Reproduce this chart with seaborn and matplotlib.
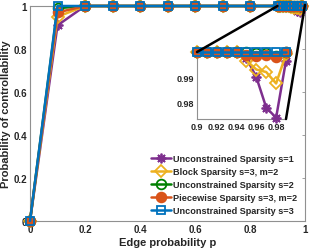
import numpy as np
import pandas as pd
import matplotlib
matplotlib.use("Agg")
import matplotlib.pyplot as plt
import seaborn as sns
from matplotlib.patches import ConnectionPatch

sns.set_style("white")
plt.rcParams['font.family'] = ['Liberation Sans', 'DejaVu Sans']
plt.rcParams['font.weight'] = 'bold'

edge_p = [0.0, 0.1, 0.2, 0.3, 0.4, 0.5, 0.6, 0.7, 0.8, 0.9,
          0.91, 0.92, 0.93, 0.94, 0.95, 0.96, 0.97, 0.98, 0.99]

uncon_s1 = [0.0, 0.91, 1.0, 1.0, 1.0, 1.0, 1.0, 1.0, 1.0, 1.0,
            1.0, 1.0, 1.0, 1.0, 0.9975, 0.990, 0.978, 0.974, 0.9965]
block_s3 = [0.0, 0.95, 1.0, 1.0, 1.0, 1.0, 1.0, 1.0, 1.0, 1.0,
            1.0, 1.0, 1.0, 1.0, 0.9965, 0.993, 0.992, 0.9875, 0.999]
uncon_s2 = [0.0, 0.99, 1.0, 1.0, 1.0, 1.0, 1.0, 1.0, 1.0, 1.0,
            1.0, 1.0, 1.0, 1.0, 1.0, 0.9995, 0.9995, 0.9985, 1.0]
piece_s3 = [0.0, 0.97, 1.0, 1.0, 1.0, 1.0, 1.0, 1.0, 1.0, 1.0,
            1.0, 1.0, 1.0, 1.0, 0.9988, 0.9985, 0.9988, 0.998, 1.0]
uncon_s3 = [0.0, 1.0, 1.0, 1.0, 1.0, 1.0, 1.0, 1.0, 1.0, 1.0,
            1.0, 1.0, 1.0, 1.0, 1.0, 1.0, 1.0, 1.0, 1.0]

labels = ["Unconstrained Sparsity s=1", "Block Sparsity s=3, m=2",
          "Unconstrained Sparsity s=2", "Piecewise Sparsity s=3, m=2",
          "Unconstrained Sparsity s=3"]
series = [uncon_s1, block_s3, uncon_s2, piece_s3, uncon_s3]
colors = ["#7E2F8E", "#EDB120", "#008000", "#D95319", "#0072BD"]
markers = [(8, 2, 0), "D", "o", "o", "s"]
msizes = [7, 6, 7, 7, 6]
filled = [True, False, False, True, False]

fig = plt.figure(figsize=(3.11, 2.53), dpi=100)
ax = fig.add_axes([30/311, 1-222/253, 275/311, 215/253])
axin = fig.add_axes([197/311, 1-120/253, 89/311, 67/253])

def draw(a, inset=False):
    for y, lab, c, m, ms, f in zip(series, labels, colors, markers, msizes, filled):
        df = pd.DataFrame({"x": edge_p, "y": y})
        if inset:
            df = df[df["x"] >= 0.9]
        kw = dict(marker=m, markersize=ms, markeredgecolor=c, markeredgewidth=1.3,
                  markerfacecolor=(c if f else "none"))
        sns.lineplot(data=df, x="x", y="y", ax=a, color=c, linewidth=1.8,
                     label=(None if inset else lab), clip_on=False, zorder=3, **kw)

draw(ax)
draw(axin, inset=True)

gray = "#909090"
for a in (ax, axin):
    for s in a.spines.values():
        s.set_color(gray)
        s.set_linewidth(0.8)
    a.tick_params(direction="in", length=2.5, width=0.6, color=gray,
                  labelsize=7, pad=2)
    a.set_xlabel("")
    a.set_ylabel("")

ax.set_xlim(0, 1)
ax.set_ylim(0, 1)
ax.set_xticks([0, 0.2, 0.4, 0.6, 0.8, 1])
ax.set_xticklabels(["0", "0.2", "0.4", "0.6", "0.8", "1"])
ax.set_yticks([0, 0.2, 0.4, 0.6, 0.8, 1])
ax.set_yticklabels(["0", "0.2", "0.4", "0.6", "0.8", "1"])
ax.tick_params(top=True, right=True)
ax.set_xlabel("Edge probability p", fontsize=8, fontweight="bold", labelpad=2)
ax.set_ylabel("Probability of controllability", fontsize=8, fontweight="bold", labelpad=2)

axin.set_xlim(0.9, 0.99)
axin.set_ylim(0.9735, 0.9999)
axin.set_xticks([0.9, 0.92, 0.94, 0.96, 0.98])
axin.set_xticklabels(["0.9", "0.92", "0.94", "0.96", "0.98"])
axin.set_yticks([0.98, 0.99])
axin.set_yticklabels(["0.98", "0.99"])
axin.spines["top"].set_visible(False)
axin.spines["right"].set_visible(False)
axin.patch.set_alpha(0)
for t in axin.get_xticklabels() + axin.get_yticklabels():
    t.set_fontsize(6.5)
    t.set_fontweight("bold")
for t in ax.get_xticklabels() + ax.get_yticklabels():
    t.set_fontweight("bold")

leg = ax.legend(loc="lower right", bbox_to_anchor=(0.99, 0.0), frameon=False,
                prop={"size": 6.6, "weight": "bold"}, handlelength=2.2,
                handletextpad=0.2, labelspacing=0.45, borderaxespad=0.2)

con1 = ConnectionPatch(xyA=(0.9, 1.0), coordsA=ax.transData,
                       xyB=(0.9, 0.9999), coordsB=axin.transData,
                       color="black", linewidth=1.8, zorder=10)
con2 = ConnectionPatch(xyA=(1.0, 1.005), coordsA=ax.transData,
                       xyB=(0.99, 0.9735), coordsB=axin.transData,
                       color="black", linewidth=1.8, zorder=10)
fig.add_artist(con1)
fig.add_artist(con2)

fig.savefig("out.png", dpi=100)
